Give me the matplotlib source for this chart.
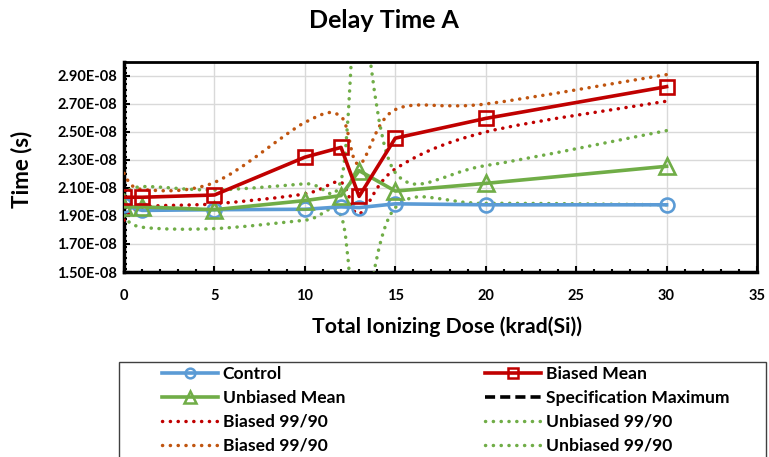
import matplotlib
matplotlib.use("Agg")
import matplotlib.pyplot as plt
import numpy as np
from matplotlib.path import Path
from matplotlib.patches import PathPatch, Rectangle
from matplotlib.lines import Line2D
from matplotlib.ticker import FuncFormatter, MultipleLocator

plt.rcParams['font.family'] = ['Lato', 'DejaVu Sans']

# ---- data ----
dose = [0, 1, 5, 10, 12, 13, 15, 20, 30]
control = [1.975e-8, 1.94e-8, 1.945e-8, 1.948e-8, 1.965e-8, 1.96e-8, 1.987e-8, 1.98e-8, 1.98e-8]
biased_mean = [2.034e-8, 2.034e-8, 2.05e-8, 2.32e-8, 2.39e-8, 2.04e-8, 2.456e-8, 2.597e-8, 2.824e-8]
unbiased_mean = [1.965e-8, 1.965e-8, 1.945e-8, 2.01e-8, 2.046e-8, 2.224e-8, 2.078e-8, 2.133e-8, 2.255e-8]
biased_lo = [1.87e-8, 1.963e-8, 1.987e-8, 2.058e-8, 2.14e-8, 1.916e-8, 2.236e-8, 2.50e-8, 2.72e-8]
biased_hi = [2.205e-8, 2.09e-8, 2.14e-8, 2.568e-8, 2.61e-8, 2.27e-8, 2.66e-8, 2.70e-8, 2.91e-8]
unbiased_hi = [2.05e-8, 2.11e-8, 2.086e-8, 2.13e-8, 2.156e-8, 3.40e-8, 2.21e-8, 2.26e-8, 2.51e-8]
unbiased_lo = [1.90e-8, 1.82e-8, 1.81e-8, 1.87e-8, 1.90e-8, 1.05e-8, 1.96e-8, 1.99e-8, 1.98e-8]

title = "Delay Time A"
xlabel = "Total Ionizing Dose (krad(Si))"
ylabel = "Time (s)"
legend_col1 = ["Control", "Unbiased Mean", "Biased 99/90", "Biased 99/90"]
legend_col2 = ["Biased Mean", "Specification Maximum", "Unbiased 99/90", "Unbiased 99/90"]

BLUE = '#5B9BD5'
RED = '#C00000'
GREEN = '#70AD47'
BROWN = '#C05510'

W, H = 769, 457
fig = plt.figure(figsize=(W/100, H/100), dpi=100)
ax = fig.add_axes([124/W, 1-272/H, (757-124)/W, (272-62)/H])

def smooth_path(xs, ys):
    pts = np.column_stack([xs, ys]).astype(float)
    n = len(pts)
    verts = [pts[0]]
    codes = [Path.MOVETO]
    for i in range(n-1):
        p0 = pts[i-1] if i > 0 else pts[i]
        p1 = pts[i]
        p2 = pts[i+1]
        p3 = pts[i+2] if i+2 < n else pts[i+1]
        c1 = p1 + (p2 - p0) / 6.0
        c2 = p2 - (p3 - p1) / 6.0
        verts += [c1, c2, p2]
        codes += [Path.CURVE4]*3
    return Path(verts, codes)

DOT_LW = 2.5
dot_style = (0, (0.05, 2.2))
for ys, col in [(biased_lo, RED), (biased_hi, BROWN), (unbiased_hi, GREEN), (unbiased_lo, GREEN)]:
    patch = PathPatch(smooth_path(dose, ys), fill=False, edgecolor=col, lw=DOT_LW,
                      linestyle=dot_style, capstyle='round', zorder=3)
    ax.add_patch(patch)

ax.plot(dose, control, color=BLUE, lw=2.6, marker='o', ms=10, mfc='none', mew=1.9, zorder=4)
ax.plot(dose, unbiased_mean, color=GREEN, lw=2.6, marker='^', ms=11, mfc='none', mew=1.9, zorder=4)
ax.plot(dose, biased_mean, color=RED, lw=2.6, marker='s', ms=10, mfc='none', mew=1.9, zorder=5)

ax.set_xlim(0, 35)
ax.set_ylim(1.5e-8, 3.0e-8)
ax.set_yticks(np.arange(1.5e-8, 2.95e-8, 0.2e-8))
ax.yaxis.set_minor_locator(MultipleLocator(0.04e-8))
ax.xaxis.set_major_locator(MultipleLocator(5))
ax.xaxis.set_minor_locator(MultipleLocator(1))
ax.yaxis.set_major_formatter(FuncFormatter(lambda v, p: f"{v:.2E}"))
ax.grid(True, which='major', color='#D9D9D9', lw=1.0, zorder=0)
ax.set_axisbelow(True)
ax.tick_params(which='both', direction='in', width=1.5, color='black')
ax.tick_params(which='major', length=4, labelsize=10.5)
ax.tick_params(which='minor', length=2.5)
ax.tick_params(axis='x', pad=12)
ax.tick_params(axis='y', pad=5)
for lbl in ax.get_xticklabels() + ax.get_yticklabels():
    lbl.set_fontweight('bold')
for s in ['left', 'bottom']:
    ax.spines[s].set_linewidth(2.5)
for s in ['top', 'right']:
    ax.spines[s].set_linewidth(2.0)

fig.text(447/W, 1-327/H, xlabel, fontsize=15.3, fontweight='bold', ha='center', va='center')
fig.text(22/W, 1-169/H, ylabel, fontsize=16, fontweight='bold', ha='center', va='center',
         rotation=90)
fig.text(384/W, 1-21/H, title, fontsize=18, fontweight='bold', ha='center', va='center')

# legend frame (extends beyond the bottom edge, as in the reference)
fig.add_artist(Rectangle((119/W, 1-480/H), (766-119)/W, (480-362)/H, transform=fig.transFigure,
                         fill=False, edgecolor='#404040', lw=1.0))

h_col1 = [
    Line2D([], [], color=BLUE, lw=2.6, marker='o', ms=7, mfc='none', mew=1.8),
    Line2D([], [], color=GREEN, lw=2.6, marker='^', ms=8, mfc='none', mew=1.8),
    Line2D([], [], color=RED, lw=DOT_LW, linestyle=dot_style, dash_capstyle='round'),
    Line2D([], [], color=BROWN, lw=DOT_LW, linestyle=dot_style, dash_capstyle='round'),
]
h_col2 = [
    Line2D([], [], color=RED, lw=2.6, marker='s', ms=7, mfc='none', mew=1.8),
    Line2D([], [], color='black', lw=2.6, linestyle=(0, (2.8, 1.4))),
    Line2D([], [], color=GREEN, lw=DOT_LW, linestyle=dot_style, dash_capstyle='round'),
    Line2D([], [], color=GREEN, lw=DOT_LW, linestyle=dot_style, dash_capstyle='round'),
]
common = dict(loc='upper left', frameon=False, prop={'weight': 'bold', 'size': 12.6},
              handlelength=3.2, handletextpad=0.26, borderpad=0, labelspacing=0.45,
              borderaxespad=0)
fig.legend(h_col1, legend_col1, bbox_to_anchor=(162/W, 1-366/H), **common)
fig.legend(h_col2, legend_col2, bbox_to_anchor=(485/W, 1-366/H), **common)

fig.savefig("out.png", dpi=100)
